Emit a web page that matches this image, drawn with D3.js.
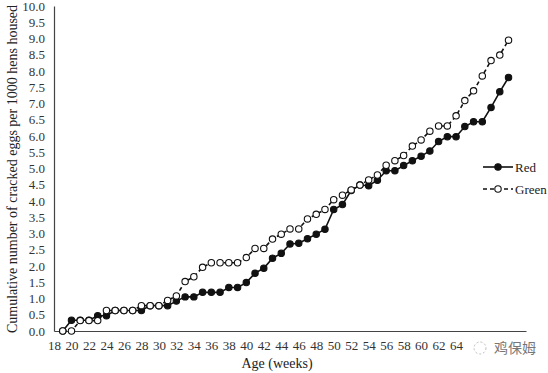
<!DOCTYPE html>
<html>
<head>
<meta charset="utf-8">
<script src="https://cdn.jsdelivr.net/npm/d3@7"></script>
<style>
  body { margin: 0; background: #fff; }
  svg text { font-family: "Liberation Serif", "Times New Roman", "DejaVu Serif", serif; }
</style>
</head>
<body>
<script>
// Weeks of age (x values)
var weeks = [19, 20, 21, 22, 23, 24, 25, 26, 27, 28, 29, 30, 31, 32, 33, 34, 35, 36,
  37, 38, 39, 40, 41, 42, 43, 44, 45, 46, 47, 48, 49, 50, 51, 52, 53, 54, 55, 56,
  57, 58, 59, 60, 61, 62, 63, 64, 65, 66, 67, 68, 69, 70];

// Cumulative cracked eggs per 1000 hens housed
var red = [0, 0.33, 0.33, 0.33, 0.47, 0.47, 0.63, 0.63, 0.63, 0.63, 0.78, 0.78, 0.78,
  0.92, 1.05, 1.05, 1.19, 1.19, 1.19, 1.34, 1.34, 1.49, 1.78, 1.93, 2.24, 2.39, 2.68,
  2.7, 2.84, 2.98, 3.13, 3.74, 3.89, 4.32, 4.49, 4.47, 4.64, 4.93, 4.93, 5.09, 5.24,
  5.38, 5.54, 5.83, 5.98, 5.98, 6.29, 6.44, 6.44, 6.88, 7.36, 7.8];

var green = [0, 0, 0.32, 0.32, 0.32, 0.63, 0.63, 0.63, 0.63, 0.78, 0.78, 0.78, 0.94,
  1.08, 1.52, 1.67, 1.96, 2.1, 2.1, 2.1, 2.1, 2.26, 2.54, 2.54, 2.83, 2.98, 3.14, 3.14,
  3.45, 3.59, 3.74, 4.04, 4.18, 4.34, 4.49, 4.65, 4.8, 5.1, 5.24, 5.4, 5.69, 5.88, 6.15,
  6.31, 6.31, 6.62, 7.09, 7.39, 7.85, 8.32, 8.49, 8.95];

// Tick labels (the ones past 64 are hidden under the watermark in the source)
var xTicks = [18, 20, 22, 24, 26, 28, 30, 32, 34, 36, 38, 40, 42, 44, 46, 48, 50,
  52, 54, 56, 58, 60, 62, 64];
var yTicks = [0, 0.5, 1, 1.5, 2, 2.5, 3, 3.5, 4, 4.5, 5, 5.5, 6, 6.5, 7, 7.5, 8,
  8.5, 9, 9.5, 10];

var width = 548, height = 373;
var axisColor = "#444";
var inkColor = "#111";
var serif = "Liberation Serif, Times New Roman, serif";

var svg = d3.select("body").append("svg").
attr("width", width).
attr("height", height);

svg.append("rect").attr("width", width).attr("height", height).attr("fill", "#fff");

// Scales
var x = d3.scaleLinear().domain([18, 72]).range([54, 526]);
var y = d3.scaleLinear().domain([0, 10]).range([331, 6]);

// X axis (no tick marks, like the source)
var xAxis = svg.append("g").
attr("transform", "translate(0," + y(0) + ")").
call(d3.axisBottom(x).tickValues(xTicks).tickSize(0).tickPadding(10).tickFormat(d3.format("d"))).
attr("font-family", serif).
attr("font-size", 13);
xAxis.select(".domain").attr("stroke", axisColor).attr("stroke-width", 1.2);
xAxis.selectAll("text").attr("fill", "#333");

// Y axis
var yAxis = svg.append("g").
attr("transform", "translate(" + x(18) + ",0)").
call(d3.axisLeft(y).tickValues(yTicks).tickSize(0).tickPadding(9).tickFormat(d3.format(".1f"))).
attr("font-family", serif).
attr("font-size", 13);
yAxis.select(".domain").attr("stroke", axisColor).attr("stroke-width", 1.2);
yAxis.selectAll("text").attr("fill", "#333");

// Axis titles
svg.append("text").
attr("transform", "translate(12," + 169 + ") rotate(-90)").
attr("text-anchor", "middle").
attr("dy", "0.35em").
attr("fill", "#222").
style("font-size", "14px").
text("Cumulative number of cracked eggs per 1000 hens housed");

svg.append("text").
attr("x", 277).
attr("y", 368).
attr("text-anchor", "middle").
attr("fill", "#222").
style("font-size", "14px").
text("Age (weeks)");

// Build series
var series = [
  { name: "Red", values: red, dash: null, fill: inkColor },
  { name: "Green", values: green, dash: "4,3", fill: "#fff" }];

var line = d3.line().
x(function (d) { return x(d.week); }).
y(function (d) { return y(d.value); });

// red first, green open circles sit on top like the source
series.forEach(function (s) {
  var pts = weeks.map(function (w, i) { return { week: w, value: s.values[i] }; });

  svg.append("path").
  datum(pts).
  attr("fill", "none").
  attr("stroke", inkColor).
  attr("stroke-width", 1.6).
  attr("stroke-dasharray", s.dash).
  attr("d", line);

  svg.selectAll(".dot-" + s.name).
  data(pts).
  enter().append("circle").
  attr("class", "dot-" + s.name).
  attr("cx", function (d) { return x(d.week); }).
  attr("cy", function (d) { return y(d.value); }).
  attr("r", 3.2).
  attr("fill", s.fill).
  attr("stroke", inkColor).
  attr("stroke-width", 1.1);
});

// Legend
var legend = svg.selectAll(".legend").
data(series).
enter().append("g").
attr("class", "legend").
attr("transform", function (d, i) { return "translate(483," + (167 + i * 22) + ")"; });

legend.append("line").
attr("x1", 0).attr("x2", 30).
attr("stroke", inkColor).
attr("stroke-width", 1.6).
attr("stroke-dasharray", function (d) { return d.dash; });

legend.append("circle").
attr("cx", 15).
attr("r", 3.2).
attr("fill", function (d) { return d.fill; }).
attr("stroke", inkColor).
attr("stroke-width", 1.1);

legend.append("text").
attr("x", 32).
attr("dy", "0.35em").
attr("fill", "#222").
style("font-size", "13px").
text(function (d) { return d.name; });

// Watermark in the lower right corner
var wm = svg.append("g").attr("transform", "translate(480,348)");
wm.append("circle").attr("cx", 0).attr("cy", 0).attr("r", 6).
attr("fill", "none").attr("stroke", "#bbb").attr("stroke-dasharray", "2,2");
wm.append("text").
attr("x", 14).
attr("dy", "0.35em").
attr("fill", "#777").
style("font-family", "Noto Sans CJK SC").
style("font-size", "14px").
text("鸡保姆");
</script>
</body>
</html>
